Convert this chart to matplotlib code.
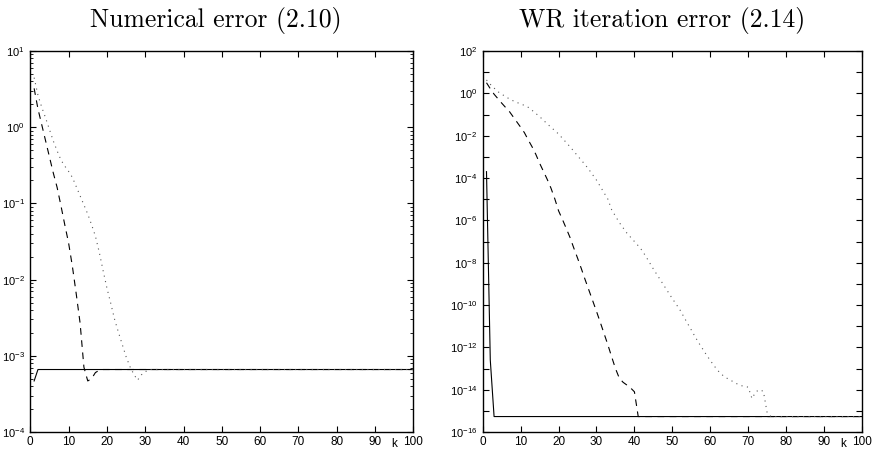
import numpy as np
import matplotlib
matplotlib.use("Agg")
import matplotlib.pyplot as plt
from matplotlib.ticker import LogLocator, FixedLocator, FuncFormatter, NullLocator, NullFormatter

plt.rcParams['font.family'] = ['Liberation Sans', 'DejaVu Sans']
plt.rcParams['mathtext.fontset'] = 'custom'
plt.rcParams['mathtext.rm'] = 'Liberation Sans'
plt.rcParams['axes.linewidth'] = 1.0

# ---- data (log10 of the error) ----
# left panel: numerical error (2.10)
num_solid_k = [1, 2, 100]
num_solid_log = [-3.33, -3.18, -3.18]

num_dash_k = list(range(1, 20)) + [100]
num_dash_log = [0.51, 0.24, 0.03, -0.18, -0.39, -0.60, -0.79, -1.03, -1.28, -1.52,
                -1.83, -2.19, -2.57, -3.15, -3.33, -3.30, -3.22, -3.19, -3.18, -3.18]

num_dot_k = list(range(1, 32)) + [100]
num_dot_log = [0.65, 0.42, 0.26, 0.12, -0.03, -0.18, -0.31, -0.43, -0.51, -0.58,
               -0.66, -0.78, -0.90, -1.02, -1.14, -1.28, -1.43, -1.64, -1.88, -2.11,
               -2.31, -2.52, -2.69, -2.85, -3.01, -3.14, -3.24, -3.32, -3.25, -3.21,
               -3.18, -3.18]

# right panel: WR iteration error (2.14)
wr_solid_k = [1, 2, 3, 100]
wr_solid_log = [-3.7, -12.6, -15.27, -15.27]

wr_dash_k = list(range(1, 42)) + [100]
wr_dash_log = [0.50, 0.22, -0.04, -0.25, -0.46, -0.66, -0.85, -1.10, -1.35, -1.60,
               -1.86, -2.20, -2.52, -2.88, -3.30, -3.68, -4.06, -4.48, -4.98, -5.55,
               -5.95, -6.37, -6.80, -7.30, -7.78, -8.28, -8.80, -9.30, -9.80, -10.30,
               -10.82, -11.35, -11.88, -12.45, -13.00, -13.45, -13.65, -13.78, -13.92, -14.10,
               -15.27, -15.27]

wr_dot_k = list(range(1, 77)) + [100]
wr_dot_log = [0.63, 0.43, 0.25, 0.08, -0.04, -0.15, -0.26, -0.35, -0.43, -0.50,
              -0.57, -0.66, -0.80, -0.95, -1.10, -1.27, -1.44, -1.60, -1.76, -1.92,
              -2.12, -2.32, -2.52, -2.73, -2.95, -3.16, -3.37, -3.60, -3.85, -4.10,
              -4.40, -4.70, -5.00, -5.50, -5.80, -6.10, -6.35, -6.60, -6.80, -7.00,
              -7.20, -7.42, -7.70, -8.00, -8.30, -8.58, -8.86, -9.14, -9.42, -9.70,
              -9.96, -10.23, -10.55, -10.87, -11.18, -11.50, -11.80, -12.08, -12.36, -12.62,
              -12.87, -13.10, -13.28, -13.42, -13.52, -13.62, -13.72, -13.80, -13.85, -13.88,
              -14.42, -14.10, -14.00, -14.08, -15.10, -15.27, -15.27]

titles = ['Numerical error (2.10)', 'WR iteration error (2.14)']
xticks = [0, 10, 20, 30, 40, 50, 60, 70, 80, 90, 100]

fig = plt.figure(figsize=(8.72, 4.54), dpi=100)
ax1 = fig.add_axes([30.3 / 872, 22 / 454, 383 / 872, 381 / 454])
ax2 = fig.add_axes([482.7 / 872, 22 / 454, 379.3 / 872, 381 / 454])

dash = (0, (6, 5))
dot = (0, (1, 4))
lw = 0.8


def draw(ax, sk, sl, dk, dl, ok, ol):
    ax.plot(sk, 10.0 ** np.array(sl), color='black', lw=lw)
    ax.plot(dk, 10.0 ** np.array(dl), color='black', lw=lw, linestyle=dash)
    ax.plot(ok, 10.0 ** np.array(ol), color='0.35', lw=lw, linestyle=dot)


draw(ax1, num_solid_k, num_solid_log, num_dash_k, num_dash_log, num_dot_k, num_dot_log)
draw(ax2, wr_solid_k, wr_solid_log, wr_dash_k, wr_dash_log, wr_dot_k, wr_dot_log)


def powfmt(v, pos):
    e = int(round(np.log10(v)))
    return r'$\mathregular{10^{%d}}$' % e


def powfmt_even(v, pos):
    e = int(round(np.log10(v)))
    if e % 2:
        return ''
    return r'$\mathregular{10^{%d}}$' % e


for ax in (ax1, ax2):
    ax.set_yscale('log')
    ax.set_xlim(0, 100)
    ax.xaxis.set_major_locator(FixedLocator(xticks))
    ax.set_xticklabels([str(t) for t in xticks])
    ax.tick_params(which='both', direction='in', top=True, right=True, labelsize=8.5, pad=3)
    ax.tick_params(which='major', length=4.5, width=0.8)
    ax.tick_params(which='minor', length=2.2, width=0.6)
    ax.tick_params(axis='y', pad=4, labelsize=8)
    ax.text(95, -0.015, 'k', transform=ax.get_xaxis_transform(), ha='center', va='top', fontsize=8.5)

ax1.set_ylim(1e-4, 1e1)
ax1.yaxis.set_major_locator(LogLocator(base=10, subs=(1.0,), numticks=20))
ax1.yaxis.set_minor_locator(LogLocator(base=10, subs=np.arange(2, 10), numticks=20))
ax1.yaxis.set_major_formatter(FuncFormatter(powfmt))
ax1.yaxis.set_minor_formatter(NullFormatter())

ax2.set_ylim(1e-16, 1e2)
ax2.yaxis.set_major_locator(LogLocator(base=10, subs=(1.0,), numticks=40))
ax2.yaxis.set_minor_locator(NullLocator())
ax2.yaxis.set_major_formatter(FuncFormatter(powfmt_even))

fig.text(216 / 872, 1 - 27 / 454, titles[0], family='cmr10', fontsize=18.5, ha='center', va='baseline')
fig.text(662 / 872, 1 - 27 / 454, titles[1], family='cmr10', fontsize=18.5, ha='center', va='baseline')

fig.savefig('out.png', dpi=100)
